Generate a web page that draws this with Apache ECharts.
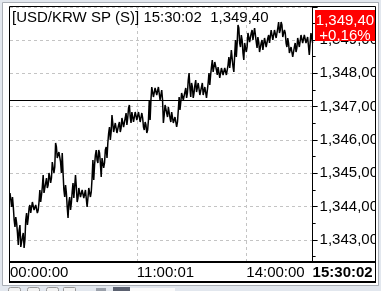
<!DOCTYPE html>
<html><head><meta charset="utf-8">
<script src="https://cdn.jsdelivr.net/npm/echarts@6/dist/echarts.min.js"></script>
<style>html,body{margin:0;padding:0;background:#e2e7ee}#c{width:381px;height:291px}</style>
</head><body><div id="c"></div>
<script>
// USD/KRW spot ticks (high/low pairs)
const prices = [
1344.41,1344.20,1343.99,1344.29,1343.99,1343.60,1343.39,1343.69,1343.51,1343.21,
1342.85,1343.30,1343.45,1342.79,1342.76,1343.09,1343.21,1342.76,1343.00,1343.60,
1343.81,1343.45,1343.66,1343.96,1344.05,1343.81,1343.84,1344.14,1344.20,1343.90,
1343.84,1344.05,1344.05,1343.81,1343.90,1344.14,1344.50,1344.14,1344.35,1344.59,
1344.95,1344.41,1344.41,1344.71,1344.86,1344.56,1344.65,1345.01,1344.89,1344.71,
1344.86,1345.34,1345.40,1345.01,1345.19,1345.91,1345.79,1345.46,1345.40,1345.64,
1345.64,1345.34,1345.01,1345.61,1345.01,1344.50,1344.29,1344.65,1344.41,1343.99,
1343.66,1344.14,1344.29,1343.90,1344.11,1344.44,1344.71,1344.26,1344.29,1344.95,
1344.59,1344.14,1344.26,1344.56,1344.50,1344.29,1344.26,1344.50,1344.56,1344.26,
1344.20,1344.50,1344.50,1343.99,1344.26,1344.56,1344.59,1344.29,1344.44,1344.86,
1345.40,1344.80,1345.25,1345.55,1345.70,1345.40,1345.31,1345.70,1345.61,1345.31,
1344.89,1345.46,1345.49,1345.16,1345.31,1345.70,1345.79,1345.46,1345.91,1346.21,
1346.39,1346.00,1346.24,1346.75,1346.69,1346.24,1346.24,1346.51,1346.45,1346.21,
1346.24,1346.45,1346.54,1346.24,1346.36,1346.66,1346.66,1346.39,1346.45,1346.66,
1346.81,1346.45,1346.66,1346.96,1347.05,1346.69,1346.51,1346.84,1346.81,1346.54,
1346.60,1346.84,1346.81,1346.60,1346.60,1346.84,1346.81,1346.54,1346.51,1346.81,
1346.66,1346.39,1346.30,1346.54,1346.45,1346.21,1346.30,1346.60,1347.20,1346.60,
1347.20,1347.59,1347.65,1347.29,1347.29,1347.56,1347.56,1347.35,1347.35,1347.59,
1347.56,1347.20,1347.14,1347.50,1347.20,1346.51,1346.75,1347.05,1347.11,1346.81,
1346.69,1346.99,1346.96,1346.66,1346.54,1346.84,1346.81,1346.51,1346.45,1346.69,
1346.69,1346.39,1346.54,1346.90,1347.29,1346.90,1347.14,1347.41,1347.41,1347.20,
1347.20,1347.44,1347.56,1347.26,1347.41,1347.80,1348.01,1347.56,1347.29,1347.71,
1347.59,1347.26,1347.41,1347.65,1347.80,1347.44,1347.41,1347.71,1347.71,1347.35,
1347.29,1347.59,1347.71,1347.35,1347.29,1347.59,1347.56,1347.26,1347.29,1347.71,
1348.01,1347.65,1347.95,1348.19,1348.40,1348.04,1348.04,1348.34,1348.31,1348.10,
1347.95,1348.19,1348.16,1347.86,1347.89,1348.16,1348.19,1347.95,1347.95,1348.16,
1348.19,1347.95,1348.01,1348.25,1348.49,1348.16,1348.40,1348.70,1348.70,1348.19,
1348.04,1348.55,1349.00,1348.49,1348.91,1349.45,1349.36,1348.91,1348.79,1349.15,
1349.00,1348.61,1348.40,1348.91,1348.94,1348.64,1348.79,1349.21,1349.24,1348.94,
1348.91,1349.21,1349.30,1349.00,1349.06,1349.36,1349.36,1348.94,1348.76,1349.09,
1348.94,1348.64,1348.61,1348.91,1349.00,1348.70,1348.76,1349.06,1349.06,1348.79,
1348.79,1349.06,1349.15,1348.91,1348.94,1349.30,1349.24,1349.00,1349.06,1349.30,
1349.30,1349.06,1349.09,1349.36,1349.54,1349.21,1349.30,1349.54,1349.45,1349.09,
1349.06,1349.30,1349.21,1348.91,1348.79,1349.06,1348.91,1348.61,1348.55,1348.79,
1348.76,1348.49,1348.55,1348.79,1348.91,1348.64,1348.76,1349.06,1349.09,1348.79,
1348.85,1349.15,1349.21,1348.91,1348.88,1349.15,1349.18,1348.91,1348.85,1349.09,
1349.06,1348.55,1348.91,1349.21,1349.06,1348.91
];
const prevClose = 1347.2;
const lastPrice = 1349.40;
const changeText = '+0,16%';
const titleText = '[USD/KRW SP (S)] 15:30:02  1,349,40';
const timeLabels = ['00:00:00', '11:00:01', '14:00:00', '15:30:02'];
const timeLabelIdx = [0, 153, 285, 365];
const yMin = 1342.34, yMax = 1349.99;

const FF = '"Liberation Sans", Arial, sans-serif';
const BG = '#e2e7ee';
function fmt(v) {
  const s = v.toFixed(2).split('.');
  return s[0].replace(/\B(?=(\d{3})+(?!\d))/g, ',') + ',' + s[1];
}
const cats = prices.map((_, i) => String(i));
const gridIdx = timeLabelIdx.slice(1, timeLabelIdx.length - 1);

const chart = echarts.init(document.getElementById('c'), null, {renderer: 'canvas'});
chart.setOption({
  animation: false,
  backgroundColor: BG,
  grid: {left: 10, right: 67, top: 7, bottom: 29},
  xAxis: {
    type: 'category', data: cats, boundaryGap: false,
    axisLine: {show: false}, axisTick: {show: false},
    axisLabel: {
      interval: (i) => timeLabelIdx.includes(i),
      formatter: (v) => {
        const k = timeLabelIdx.indexOf(Number(v));
        if (k < 0) return '';
        return k === timeLabels.length - 1 ? '{b|' + timeLabels[k] + '}' : timeLabels[k];
      },
      align: 'left', margin: 3, color: '#000', fontSize: 15, fontFamily: FF,
      rich: {b: {fontWeight: 'bold', fontSize: 15, fontFamily: FF, color: '#000'}}
    },
    splitLine: {show: true, interval: (i) => gridIdx.includes(i),
      lineStyle: {color: '#c4c4c4', type: [3, 3], width: 1}}
  },
  yAxis: {
    type: 'value', position: 'right', min: yMin, max: yMax,
    splitNumber: 8, minInterval: 1, maxInterval: 1, scale: true,
    axisLine: {show: true, lineStyle: {color: '#000', width: 1}},
    axisTick: {show: true, length: 5, lineStyle: {color: '#000'}},
    minorTick: {show: true, splitNumber: 2, length: 3, lineStyle: {color: '#000'}},
    axisLabel: {showMinLabel: false, showMaxLabel: false, margin: 7, formatter: fmt,
      color: '#000', fontSize: 15, fontFamily: FF},
    splitLine: {show: true, lineStyle: {color: '#c4c4c4', type: [3, 3], width: 1}}
  },
  series: [{
    type: 'line', data: prices, symbol: 'none', showSymbol: false,
    lineStyle: {color: '#000', width: 1.5}, z: 3,
    markLine: {silent: true, symbol: 'none', label: {show: false},
      lineStyle: {color: '#000', type: 'solid', width: 1},
      data: [{yAxis: prevClose}]}
  }],
  graphic: [
    {type: 'rect', z: -10, shape: {x: 2.5, y: 2.5, width: 376, height: 283},
      style: {fill: '#fff', stroke: '#a9aeb5', lineWidth: 1}},
    {type: 'rect', z: 98, shape: {x: 376, y: 3, width: 2.5, height: 282}, style: {fill: '#fff'}},
    {type: 'rect', z: 98, shape: {x: 379, y: 0, width: 2, height: 291}, style: {fill: BG}},
    {type: 'line', z: 98, shape: {x1: 378.5, y1: 2.5, x2: 378.5, y2: 285.5}, style: {stroke: '#a9aeb5', lineWidth: 1}},
    {type: 'rect', z: 100, shape: {x: 9.5, y: 6.5, width: 366, height: 275.5},
      style: {fill: null, stroke: '#000', lineWidth: 1}},
    {type: 'line', z: 100, shape: {x1: 9, y1: 282, x2: 376, y2: 282}, style: {stroke: '#000', lineWidth: 2}},
    {type: 'line', z: 100, shape: {x1: 9, y1: 262, x2: 376, y2: 262}, style: {stroke: '#000', lineWidth: 2}},
    {type: 'rect', z: 101, shape: {x: 315, y: 10, width: 60, height: 31}, style: {fill: '#ff0000'}},
    {type: 'text', z: 102, style: {text: fmt(lastPrice), x: 345, y: 21, align: 'center', verticalAlign: 'middle',
      fill: '#fff', fontSize: 15, fontFamily: FF}},
    {type: 'text', z: 102, style: {text: changeText, x: 345, y: 35.5, align: 'center', verticalAlign: 'middle',
      fill: '#fff', fontSize: 15, fontFamily: FF}},
    {type: 'text', z: 102, style: {text: titleText, x: 12, y: 18, align: 'left', verticalAlign: 'middle',
      fill: '#000', fontSize: 15, fontFamily: FF}},
    {type: 'rect', z: 5, shape: {x: 8.5, y: 287.5, width: 12, height: 8, r: 2}, style: {fill: '#f2f2f2', stroke: '#9a9a9a'}},
    {type: 'rect', z: 5, shape: {x: 27.5, y: 287.5, width: 12, height: 8, r: 2}, style: {fill: '#f2f2f2', stroke: '#9a9a9a'}},
    {type: 'rect', z: 5, shape: {x: 46.5, y: 287.5, width: 12, height: 8, r: 2}, style: {fill: '#f2f2f2', stroke: '#9a9a9a'}},
    {type: 'rect', z: 5, shape: {x: 63.5, y: 287.5, width: 12, height: 8, r: 1}, style: {fill: '#f2f2f2', stroke: '#9a9a9a'}},
    {type: 'rect', z: 5, shape: {x: 96, y: 288, width: 10, height: 8}, style: {fill: '#9aa0aa'}},
    {type: 'rect', z: 5, shape: {x: 113, y: 287, width: 17, height: 8}, style: {fill: '#5b6170'}},
    {type: 'rect', z: 5, shape: {x: 130, y: 288, width: 45, height: 8}, style: {fill: '#fafafa'}}
  ]
});
</script></body></html>
